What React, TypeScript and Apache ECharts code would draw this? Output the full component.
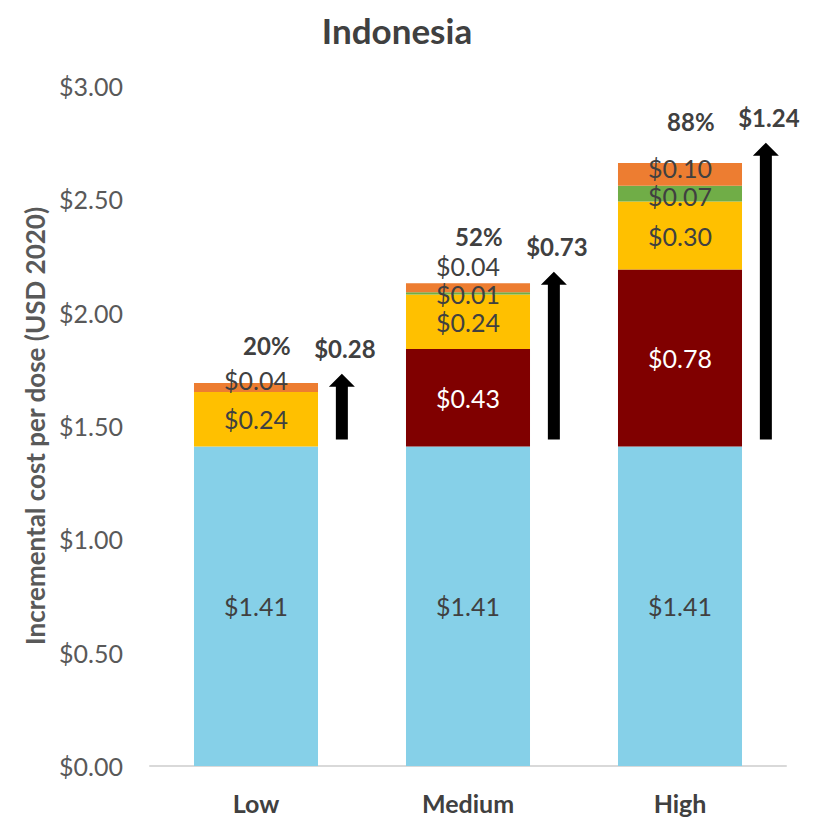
import React, { useEffect, useRef } from "react";
import * as echarts from "echarts";

const categories = ["Low", "Medium", "High"];
const baseCost = [1.41, 1.41, 1.41];
const darkRedCost = [0, 0.43, 0.78];
const yellowCost = [0.24, 0.24, 0.3];
const greenCost = [0, 0.01, 0.07];
const orangeCost = [0.04, 0.04, 0.1];
const pctLabels = ["20%", "52%", "88%"];
const incrementLabels = ["$0.28", "$0.73", "$1.24"];
const arrowFrom = [1.44, 1.44, 1.44];
const arrowTo = [1.73, 2.18, 2.75];

// layout-only label nudges (px)
const orangeDy = [-7, -22, -6];
const greenDy = [0, 1, 2];
const pctDy = [-28, -35, -21];

const FONT = "Lato";
const TXT = "#404040";

export default function App() {
  const ref = useRef<HTMLDivElement>(null);
  useEffect(() => {
    document.body.style.margin = "0";
    const chart = echarts.init(ref.current!, null, { renderer: "svg" });
    const lbl = (color: string) => ({
      show: true,
      position: "inside",
      color,
      fontFamily: FONT,
      fontSize: 25,
      formatter: (p: any) => (p.value > 0 ? "$" + Number(p.value).toFixed(2) : ""),
    });
    const mk = (name: string, vals: number[], color: string, labelColor: string, dys?: number[]) => ({
      name,
      type: "bar",
      stack: "total",
      barWidth: "58.5%",
      itemStyle: { color },
      label: lbl(labelColor),
      data: vals.map((v, i) => ({
        value: v,
        label: dys ? { offset: [0, dys[i]] } : undefined,
      })),
    });
    const option: any = {
      animation: false,
      grid: { left: 150, right: 32, top: 86, bottom: 55, containLabel: false },
      graphic: [
        {
          type: "text",
          x: 397,
          y: 30,
          style: {
            text: "Indonesia",
            font: `bold 35px ${FONT}`,
            fill: TXT,
            textAlign: "center",
            textVerticalAlign: "middle",
          },
        },
      ],
      xAxis: {
        type: "category",
        data: categories,
        axisLine: { lineStyle: { color: "#d9d9d9", width: 2 } },
        axisTick: { show: false },
        axisLabel: { color: TXT, fontFamily: FONT, fontWeight: "bold", fontSize: 25, margin: 24 },
      },
      yAxis: {
        type: "value",
        min: 0,
        max: 3,
        interval: 0.5,
        splitLine: { show: false },
        axisLine: { show: false },
        axisTick: { show: false },
        axisLabel: {
          color: "#595959",
          fontFamily: FONT,
          fontSize: 25,
          margin: 27,
          formatter: (v: number) => "$" + v.toFixed(2),
        },
        name: "Incremental cost per dose (USD 2020)",
        nameLocation: "middle",
        nameGap: 102,
        nameTextStyle: { color: "#595959", fontFamily: FONT, fontWeight: "bold", fontSize: 26 },
      },
      series: [
        mk("Base", baseCost, "#86D0E8", TXT),
        mk("Component A", darkRedCost, "#800000", "#ffffff"),
        mk("Component B", yellowCost, "#FFC000", TXT),
        mk("Component C", greenCost, "#70AD47", TXT, greenDy),
        mk("Component D", orangeCost, "#ED7D31", TXT, orangeDy),
        {
          type: "custom",
          name: "Increment",
          clip: false,
          silent: true,
          data: categories.map((_, i) => [i, arrowFrom[i], arrowTo[i]]),
          encode: { x: 0, y: [1, 2] },
          renderItem: (params: any, api: any) => {
            const i = api.value(0);
            const p0 = api.coord([i, api.value(1)]);
            const p1 = api.coord([i, api.value(2)]);
            const bw = api.size([1, 0])[0];
            const x = p0[0] + 0.405 * bw;
            const sw = 6,
              hw = 13,
              hh = 13;
            const y0 = p0[1],
              y1 = p1[1];
            return {
              type: "group",
              children: [
                {
                  type: "polygon",
                  shape: {
                    points: [
                      [x - sw, y0],
                      [x - sw, y1 + hh],
                      [x - hw, y1 + hh],
                      [x, y1],
                      [x + hw, y1 + hh],
                      [x + sw, y1 + hh],
                      [x + sw, y0],
                    ],
                  },
                  style: { fill: "#000000" },
                },
                {
                  type: "text",
                  x: x + 3,
                  y: y1 - 25,
                  style: {
                    text: incrementLabels[i],
                    font: `bold 24px ${FONT}`,
                    fill: TXT,
                    textAlign: "center",
                    textVerticalAlign: "middle",
                  },
                },
                {
                  type: "text",
                  x: x - 75,
                  y: y1 + pctDy[i],
                  style: {
                    text: pctLabels[i],
                    font: `bold 24px ${FONT}`,
                    fill: TXT,
                    textAlign: "center",
                    textVerticalAlign: "middle",
                  },
                },
              ],
            };
          },
        },
      ],
    };
    chart.setOption(option);
    return () => chart.dispose();
  }, []);
  return <div ref={ref} style={{ width: 818, height: 821 }} />;
}
